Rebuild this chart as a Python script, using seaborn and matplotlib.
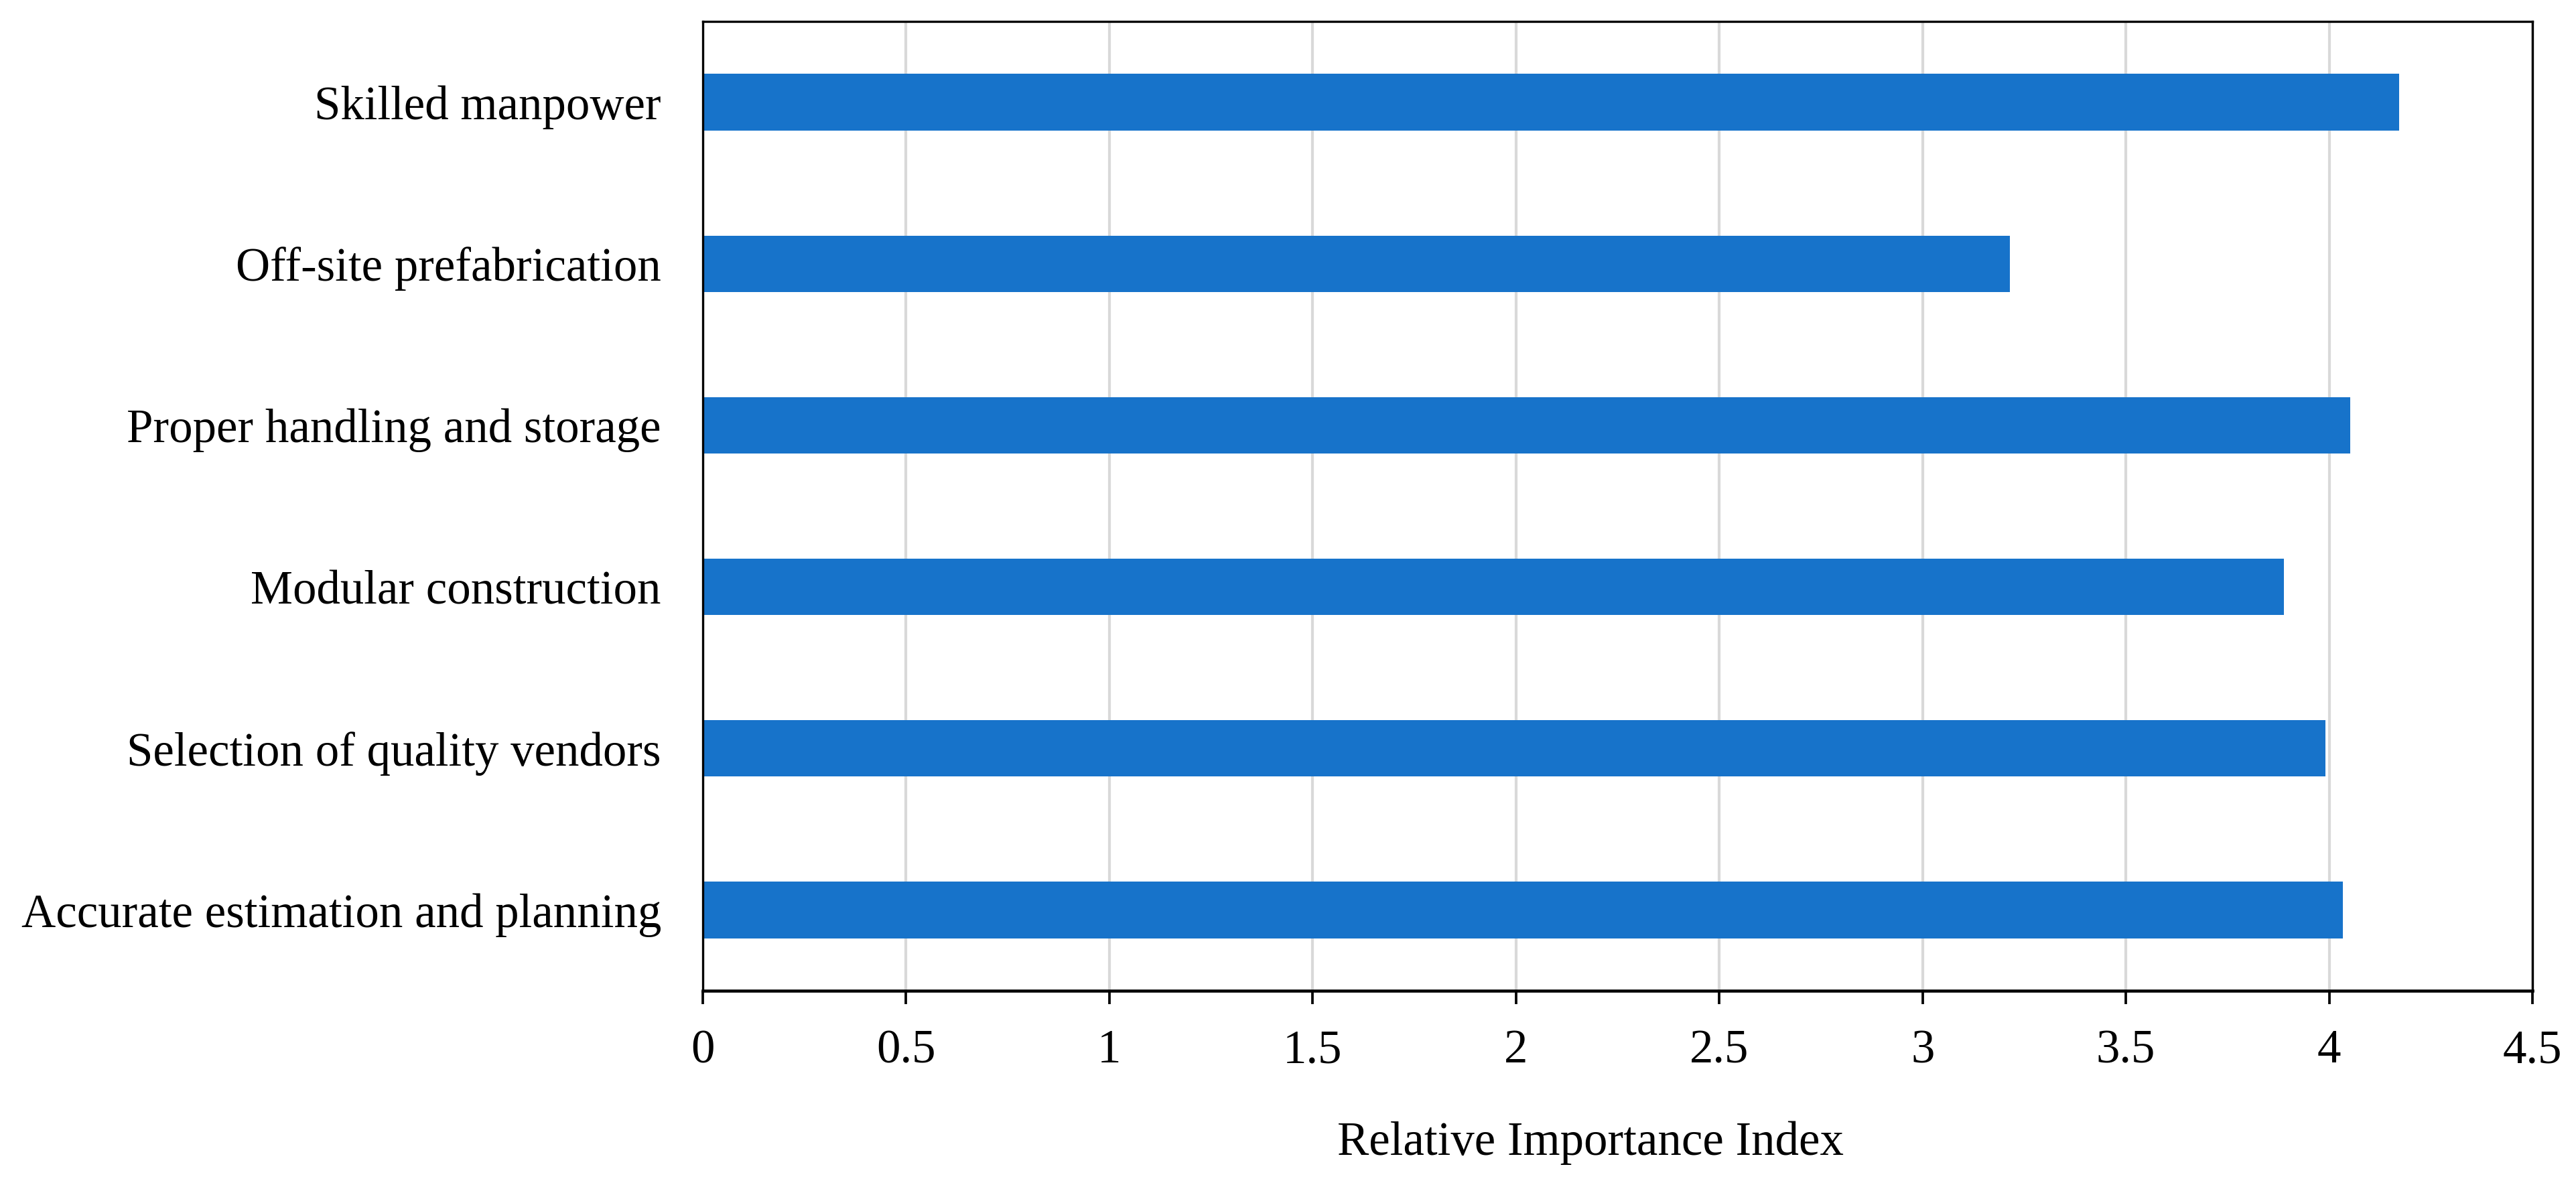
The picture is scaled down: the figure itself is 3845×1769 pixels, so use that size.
import matplotlib
matplotlib.use("Agg")
import pandas as pd
import seaborn as sns
import matplotlib.pyplot as plt
from matplotlib.ticker import MultipleLocator, FuncFormatter

# Data (top to bottom)
strategies = [
    "Skilled manpower",
    "Off-site prefabrication",
    "Proper handling and storage",
    "Modular construction",
    "Selection of quality vendors",
    "Accurate estimation and planning",
]
rii = [4.172, 3.215, 4.052, 3.888, 3.991, 4.034]

df = pd.DataFrame({"Strategy": strategies, "RII": rii})

sns.set_theme(style="white", rc={
    "text.color": "black",
    "axes.labelcolor": "black",
    "xtick.color": "black",
    "ytick.color": "black",
    "axes.edgecolor": "black",
})
plt.rcParams["font.family"] = ["Liberation Serif", "DejaVu Serif"]

W, H = 3845, 1769
fig = plt.figure(figsize=(W / 300, H / 300), dpi=300)
left, right = 1049 / W, 3780 / W
top, bottom = 1 - 32 / H, 1 - 1479 / H
ax = fig.add_axes([left, bottom, right - left, top - bottom])

sns.barplot(data=df, x="RII", y="Strategy", color="#1773CA", saturation=1,
            width=0.35, linewidth=0, ax=ax, zorder=2)

ax.set_xlim(0, 4.5)
ax.xaxis.set_major_locator(MultipleLocator(0.5))
ax.xaxis.set_major_formatter(FuncFormatter(lambda v, p: f"{v:g}"))
ax.grid(axis="x", color="#D9D9D9", linewidth=1.0, zorder=0)
ax.set_axisbelow(True)

ax.tick_params(axis="x", bottom=True, length=4.8, width=0.9, pad=9,
               labelsize=17, direction="out")
ax.tick_params(axis="y", left=False, length=0, pad=14.9, labelsize=17)

for side in ["top", "right", "left", "bottom"]:
    ax.spines[side].set_visible(True)
    ax.spines[side].set_color("black")
    ax.spines[side].set_linewidth(0.8)
ax.spines["bottom"].set_linewidth(1.1)

ax.set_ylabel("")
ax.set_xlabel("Relative Importance Index", fontsize=17)
ax.xaxis.set_label_coords(0.485, -0.1346)

fig.savefig("out.png", dpi=300)
